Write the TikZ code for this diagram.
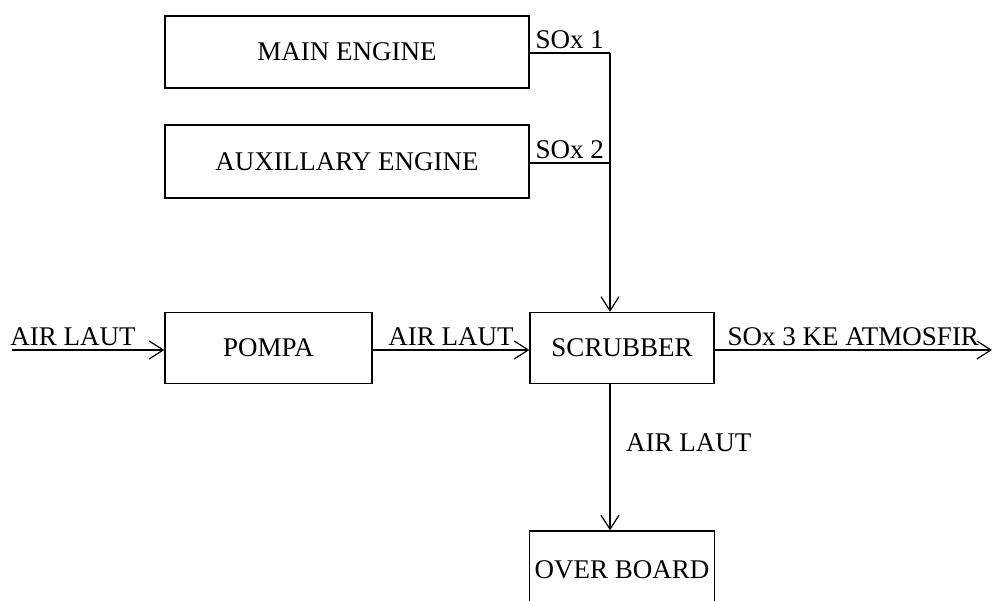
\documentclass[tikz,border=0pt]{standalone}
\usepackage{fontspec}
\setmainfont{Liberation Serif}
\usetikzlibrary{arrows.meta}
\begin{document}
\begin{tikzpicture}[x=1pt,y=-1pt,every node/.style={font=\fontsize{27}{32}\selectfont},
  blok/.style={draw,line width=1.4pt,inner sep=0pt},
  alir/.style={line width=1.4pt,-{Straight Barb[length=14pt,width=18pt,line width=1.2pt]}}]
\clip (0,0) rectangle (993,601);
\node[blok,minimum width=364pt,minimum height=72pt] (me) at (347,52) {MAIN ENGINE};
\node[blok,minimum width=364pt,minimum height=73pt] (ae) at (347,161.5) {AUXILLARY ENGINE};
\node[blok,minimum width=207pt,minimum height=71pt] (pompa) at (268.5,348) {POMPA};
\node[blok,minimum width=184pt,minimum height=71pt] (scrub) at (622,348) {SCRUBBER};
\node[blok,minimum width=185pt,minimum height=78pt,text depth=0pt] (over) at (622,570) {OVER BOARD};
\coordinate (j1) at (610,53);
\coordinate (j2) at (610,163);
\coordinate (in) at (12,350);
\coordinate (out) at (992,350);
\draw[line width=1.4pt] (me.east |- j1) -- (j1) node[midway,above] {SOx 1};
\draw[line width=1.4pt] (ae.east |- j2) -- (j2) node[midway,above] {SOx 2};
\draw[alir] (j1) -- (j1 |- scrub.north);
\draw[alir] (in) -- (in -| pompa.west) node[pos=0.4,above] {AIR LAUT};
\draw[alir] (in -| pompa.east) -- (in -| scrub.west) node[midway,above] {AIR LAUT};
\draw[alir] (in -| scrub.east) -- (out) node[midway,above] {SOx 3 KE ATMOSFIR};
\draw[alir] (j1 |- scrub.south) -- (j1 |- over.north) node[pos=0.4,right,xshift=12pt] {AIR LAUT};
\end{tikzpicture}
\end{document}
